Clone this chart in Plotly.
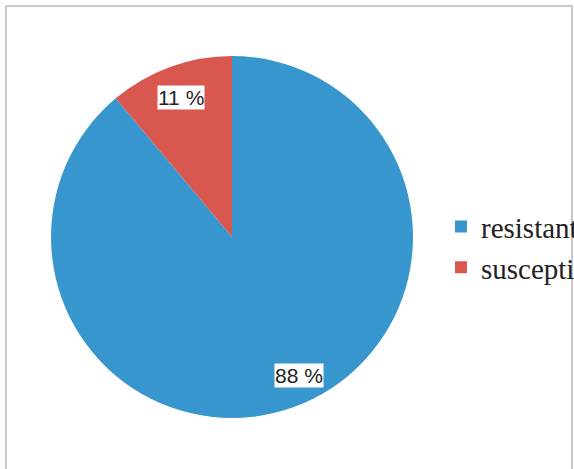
import math
import plotly.graph_objects as go

labels = ["resistant", "susceptible"]
values = [88, 11]
colors = ["#3896CF", "#D8574F"]

# label placement (style): angle clockwise from 12 o'clock in degrees (None = slice middle), radial fraction
label_angle = [154, None]
label_rfrac = [0.85, 0.82]

W, H = 574, 469
dom_x = [0.0889, 0.7195]
dom_y = [0.1087, 0.8806]

fig = go.Figure(go.Pie(
    labels=labels, values=values,
    marker=dict(colors=colors, line=dict(width=0)),
    sort=False, direction="counterclockwise", rotation=0,
    textinfo="none", hoverinfo="label+percent",
    domain=dict(x=dom_x, y=dom_y),
))

# annotations for value labels, placed from data-derived angles
cx = (dom_x[0] + dom_x[1]) / 2
cy = (dom_y[0] + dom_y[1]) / 2
R_px = min((dom_x[1] - dom_x[0]) * W, (dom_y[1] - dom_y[0]) * H) / 2
total = sum(values)
start = 0.0
annotations = []
for i, v in enumerate(values):
    span = v / total * 360
    mid_cw = start + span / 2
    start += span
    ang_cw = mid_cw if label_angle[i] is None else label_angle[i]
    r = label_rfrac[i] * R_px
    dx = r * math.sin(math.radians(ang_cw))
    dy = r * math.cos(math.radians(ang_cw))
    annotations.append(dict(
        x=cx + dx / W, y=cy + dy / H, xref="paper", yref="paper",
        xanchor="center", yanchor="middle",
        text=f"{v} %", showarrow=False,
        font=dict(family="Liberation Sans, Arial, sans-serif", size=21, color="#222222"),
        bgcolor="white", borderpad=0,
    ))

shapes = [
    dict(type="line", xref="paper", yref="paper", x0=6 / W, x1=6 / W, y0=0, y1=1 - 6 / H,
         line=dict(color="#C8C8C8", width=2)),
    dict(type="line", xref="paper", yref="paper", x0=6 / W, x1=572 / W, y0=1 - 6 / H, y1=1 - 6 / H,
         line=dict(color="#C8C8C8", width=2)),
    dict(type="line", xref="paper", yref="paper", x0=572 / W, x1=572 / W, y0=0, y1=1 - 6 / H,
         line=dict(color="#C8C8C8", width=2)),
]

fig.update_layout(
    width=W, height=H,
    margin=dict(l=0, r=0, t=0, b=0, autoexpand=False),
    paper_bgcolor="white", plot_bgcolor="white",
    showlegend=True,
    legend=dict(
        x=441 / W, y=0.473, xanchor="left", yanchor="middle",
        font=dict(family="Liberation Serif, Times New Roman, serif", size=29, color="#222222"),
        itemsizing="constant", itemwidth=30, tracegroupgap=0,
        bgcolor="rgba(0,0,0,0)",
    ),
    annotations=annotations,
    shapes=shapes,
)

fig.write_html("out.html")
